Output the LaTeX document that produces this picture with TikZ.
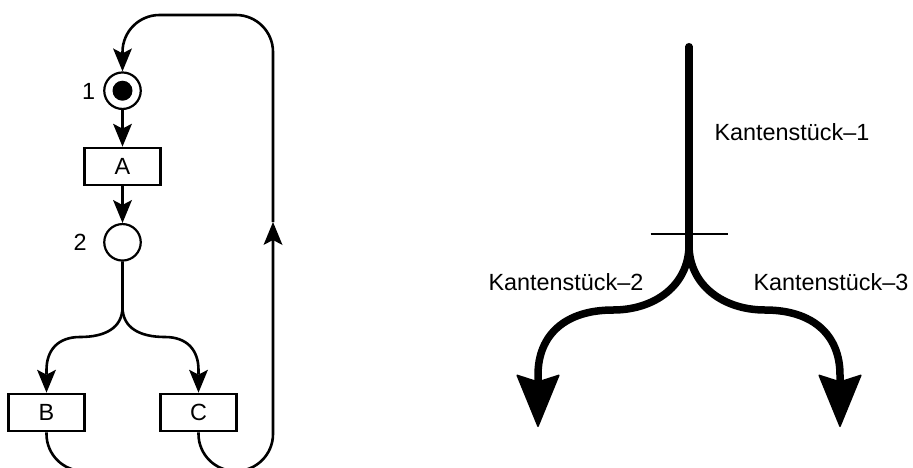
\documentclass[tikz,border=0pt]{standalone}
\usepackage{fontspec}
\setmainfont{Liberation Sans}
\usetikzlibrary{arrows.meta}
\begin{document}
\begin{tikzpicture}[x=1pt,y=1pt,
  every node/.style={font=\fontsize{23.4}{28}\selectfont},
  place/.style={circle,draw,line width=2.2pt,minimum size=36.5pt,inner sep=0pt},
  trans/.style={rectangle,draw,line width=2.2pt,minimum width=76pt,minimum height=37.5pt,inner sep=0pt},
  tag/.style={inner sep=0pt,anchor=base west},
  arc/.style={line width=2.6pt,-{Stealth[length=23pt,width=19pt,inset=5pt,line width=0pt]}},
  plain/.style={line width=2.6pt},
  piece/.style={line width=7.5pt},
  bigarc/.style={line width=7.5pt,-{Stealth[length=54pt,width=44pt,inset=7pt,line width=1.5pt,round]}}
]
\clip (0,0) rectangle (913,-467);

% ---- Petri net with loop ----
\node[place] (p1) at (122.5,-90.7) {};
\fill (p1.center) circle (10pt);
\node[tag] (l1) at (81.8,-99.3) {1};
\node[trans] (A) at (122.5,-166.5) {A};
\node[place] (p2) at (122.5,-242.3) {};
\node[tag] (l2) at (73.3,-250) {2};
\node[trans] (B) at (46.5,-412.5) {B};
\node[trans] (C) at (198.5,-412.5) {C};

\draw[arc] (p1) -- (A);
\draw[arc] (A) -- (p2);
\draw[arc] (p2.south) -- (122.5,-307)
  .. controls (122.5,-328) and (105,-337) .. (80,-337)
  .. controls (58,-337) and (46.5,-350) .. (46.5,-370) -- (B.north);
\draw[arc] (p2.south) -- (122.5,-307)
  .. controls (122.5,-328) and (140,-337) .. (165,-337)
  .. controls (187,-337) and (198.5,-350) .. (198.5,-370) -- (C.north);

\coordinate (up) at (273,-222);
\draw[arc,rounded corners=37pt] (B.south) -- (46.5,-471) -- (273,-471) -- (up);
\draw[plain,rounded corners=37pt] (C.south) -- (198.5,-471) -- (250,-471);
\draw[arc,rounded corners=37pt] (up) -- (273,-15) -- (122.5,-15) -- (p1.north);

% ---- split edge pieces ----
\coordinate (top) at (689,-46.7);
\coordinate (fork) at (689,-245);
\coordinate (endL) at (538,-427);
\coordinate (endR) at (840,-427);
\draw[piece,line cap=round] (top) -- (fork);
\draw[bigarc] (fork) .. controls (689,-285) and (655,-310) .. (613,-310)
  .. controls (565,-310) and (538,-335) .. (538,-375) -- (endL);
\draw[bigarc] (fork) .. controls (689,-285) and (723,-310) .. (765,-310)
  .. controls (813,-310) and (840,-335) .. (840,-375) -- (endR);
\draw[line width=1.8pt] (650.7,-234) -- (728.3,-234);

\node[tag] (k1) at (714.3,-140) {Kantenstück–1};
\node[tag] (k2) at (488.3,-290) {Kantenstück–2};
\node[tag] (k3) at (753.3,-290) {Kantenstück–3};
\end{tikzpicture}
\end{document}
